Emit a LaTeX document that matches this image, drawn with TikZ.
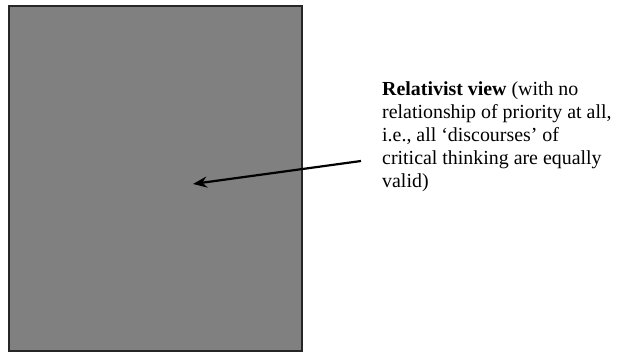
\documentclass[tikz,border=0pt]{standalone}
\usepackage{fontspec}
\setmainfont{Liberation Serif}
\usetikzlibrary{arrows.meta}
\begin{document}
\begin{tikzpicture}[x=1pt,y=-1pt,
  box/.style={draw=black!85,line width=1.6pt,fill=black!50},
  lbl/.style={anchor=north west,align=left,inner sep=0pt,font=\fontsize{19.9}{22.9}\selectfont},
  arr/.style={-{Stealth[length=14pt,width=11pt]},line width=2.2pt}]
\useasboundingbox (0,0) rectangle (618,352);
\node[box,minimum width=293pt,minimum height=345pt,anchor=north west,inner sep=0pt] (rect) at (8,5) {};
\node[lbl] (txt) at (382,81.5) {\textbf{Relativist view} (with no\\relationship of priority at all,\\i.e., all `discourses' of\\critical thinking are equally\\valid)};
\coordinate (start) at (361,161);
\coordinate (tip) at (193,184);
\draw[arr] (start) -- (tip);
\end{tikzpicture}
\end{document}
